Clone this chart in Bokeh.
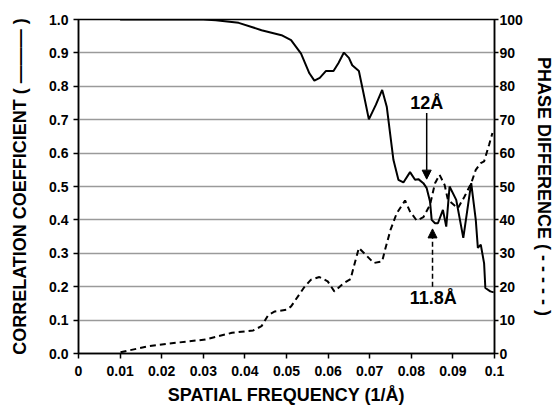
import math
from bokeh.plotting import figure
from bokeh.models import (Range1d, LinearAxis, FixedTicker, Label, Arrow, NormalHead)
from bokeh.embed import file_html
from bokeh.resources import INLINE

# Correlation coefficient (solid) vs spatial frequency
cc_freq = [0.010, 0.020, 0.030, 0.033, 0.0385, 0.044, 0.0488, 0.0511, 0.0535, 0.0555,
           0.0567, 0.058, 0.0595, 0.0613, 0.0625, 0.0638, 0.065, 0.0658, 0.0674, 0.0685,
           0.0698, 0.0715, 0.073, 0.0741, 0.0749, 0.0757, 0.0769, 0.0781, 0.0797, 0.0809,
           0.0817, 0.0829, 0.0837, 0.0845, 0.0849, 0.0857, 0.0864, 0.0876, 0.0884, 0.0892,
           0.0908, 0.0925, 0.0944, 0.0955, 0.0960, 0.0967, 0.0975, 0.0978, 0.0990, 0.0998]
cc_vals = [1.000, 1.000, 1.000, 0.998, 0.990, 0.968, 0.953, 0.938, 0.898, 0.839,
           0.817, 0.825, 0.846, 0.846, 0.870, 0.901, 0.885, 0.863, 0.846, 0.780,
           0.701, 0.745, 0.789, 0.739, 0.659, 0.580, 0.520, 0.512, 0.543, 0.520,
           0.522, 0.510, 0.495, 0.455, 0.400, 0.390, 0.390, 0.430, 0.380, 0.500,
           0.460, 0.346, 0.510, 0.400, 0.316, 0.326, 0.270, 0.196, 0.186, 0.183]

# Phase difference (dashed, degrees) vs spatial frequency
ph_freq = [0.0101, 0.017, 0.0234, 0.0305, 0.0369, 0.042, 0.044, 0.0456, 0.0472, 0.050,
           0.0511, 0.0543, 0.0559, 0.0579, 0.0599, 0.0615, 0.0638, 0.0654, 0.0662, 0.0674,
           0.0694, 0.071, 0.073, 0.0737, 0.075, 0.0765, 0.0785, 0.0797, 0.0813, 0.0829,
           0.0845, 0.0857, 0.0868, 0.088, 0.0888, 0.0912, 0.0928, 0.0944, 0.0955, 0.0967,
           0.0975, 0.0987, 0.0995]
ph_vals = [0.4, 2.2, 3.2, 4.2, 6.2, 6.9, 8.2, 11.5, 12.6, 13.1,
           14.1, 19.9, 22.1, 22.9, 21.6, 18.6, 21.1, 22.3, 26.1, 31.6,
           29.1, 27.1, 27.6, 31.1, 37.0, 42.0, 45.8, 42.5, 39.8, 40.8,
           44.5, 51.0, 53.5, 50.5, 46.0, 43.5, 47.0, 51.0, 55.0, 57.0,
           57.5, 62.5, 66.0]

x_ticks = [0, 0.01, 0.02, 0.03, 0.04, 0.05, 0.06, 0.07, 0.08, 0.09, 0.1]
x_tick_labels = ["0", "0.01", "0.02", "0.03", "0.04", "0.05", "0.06", "0.07", "0.08", "0.09", "0.1"]
left_ticks = [0.0, 0.1, 0.2, 0.3, 0.4, 0.5, 0.6, 0.7, 0.8, 0.9, 1.0]
left_tick_labels = ["0.0", "0.1", "0.2", "0.3", "0.4", "0.5", "0.6", "0.7", "0.8", "0.9", "1.0"]
right_ticks = [0, 10, 20, 30, 40, 50, 60, 70, 80, 90, 100]
right_tick_labels = ["0", "10", "20", "30", "40", "50", "60", "70", "80", "90", "100"]

FONT = "Liberation Sans"

p = figure(width=556, height=407, output_backend="svg", toolbar_location=None,
           x_range=Range1d(0, 0.1), y_range=Range1d(0, 1),
           min_border_left=78, min_border_right=57, min_border_top=19, min_border_bottom=53)
p.extra_y_ranges = {"phase": Range1d(0, 100)}
p.background_fill_color = "white"
p.border_fill_color = "white"
p.outline_line_color = "black"
p.outline_line_width = 1.5

p.xgrid.visible = False
p.ygrid.grid_line_color = "#9a9a9a"
p.ygrid.grid_line_width = 1.5
p.ygrid.ticker = FixedTicker(ticks=left_ticks)

def style_axis(ax, ticks, labels, label_text):
    ax.ticker = FixedTicker(ticks=ticks)
    ax.major_label_overrides = {t: l for t, l in zip(ticks, labels)}
    ax.major_label_text_font = FONT
    ax.major_label_text_font_style = "bold"
    ax.major_label_text_font_size = "14px"
    ax.major_label_text_color = "black"
    ax.axis_label = label_text
    ax.axis_label_text_font = FONT
    ax.axis_label_text_font_style = "bold"
    ax.axis_label_text_font_size = "18px"
    ax.axis_label_text_color = "black"
    ax.axis_line_color = "black"
    ax.axis_line_width = 1.5
    ax.major_tick_line_color = "black"
    ax.major_tick_line_width = 1.5
    ax.major_tick_in = 0
    ax.major_tick_out = 5
    ax.minor_tick_line_color = None

xa = p.xaxis[0]
style_axis(xa, x_ticks, x_tick_labels, "SPATIAL FREQUENCY (1/Å)")
xa.major_label_standoff = 7
xa.axis_label_standoff = 6

ya = p.yaxis[0]
style_axis(ya, left_ticks, left_tick_labels, "CORRELATION COEFFICIENT ( ——— )")
ya.major_label_standoff = 5
ya.axis_label_standoff = 16

ra = LinearAxis(y_range_name="phase")
style_axis(ra, right_ticks, right_tick_labels, "PHASE DIFFERENCE ( - - - - - )")
ra.major_tick_out = 4
ra.major_label_standoff = 1
ra.axis_label_standoff = 8
ra.axis_label_orientation = "vertical"
p.add_layout(ra, "right")

p.line(cc_freq, cc_vals, line_color="black", line_width=2)
p.line(ph_freq, ph_vals, line_color="black", line_width=2, line_dash="6 4", y_range_name="phase")

p.add_layout(Arrow(end=NormalHead(size=9, fill_color="black", line_color="black"),
                   x_start=0.0837, y_start=0.72, x_end=0.0837, y_end=0.522,
                   line_color="black", line_width=1.5))
p.add_layout(Arrow(end=NormalHead(size=9, fill_color="black", line_color="black"),
                   x_start=0.0851, y_start=0.20, x_end=0.0851, y_end=0.373,
                   line_color="black", line_width=1.5, line_dash="5 3"))
p.add_layout(Label(x=0.0837, y=0.749, text="12Å", text_font=FONT, text_font_style="bold",
                   text_font_size="18px", text_color="black",
                   text_align="center", text_baseline="middle"))
p.add_layout(Label(x=0.0853, y=0.166, text="11.8Å", text_font=FONT, text_font_style="bold",
                   text_font_size="18px", text_color="black",
                   text_align="center", text_baseline="middle"))

open("out.html", "w").write(file_html(p, INLINE))
